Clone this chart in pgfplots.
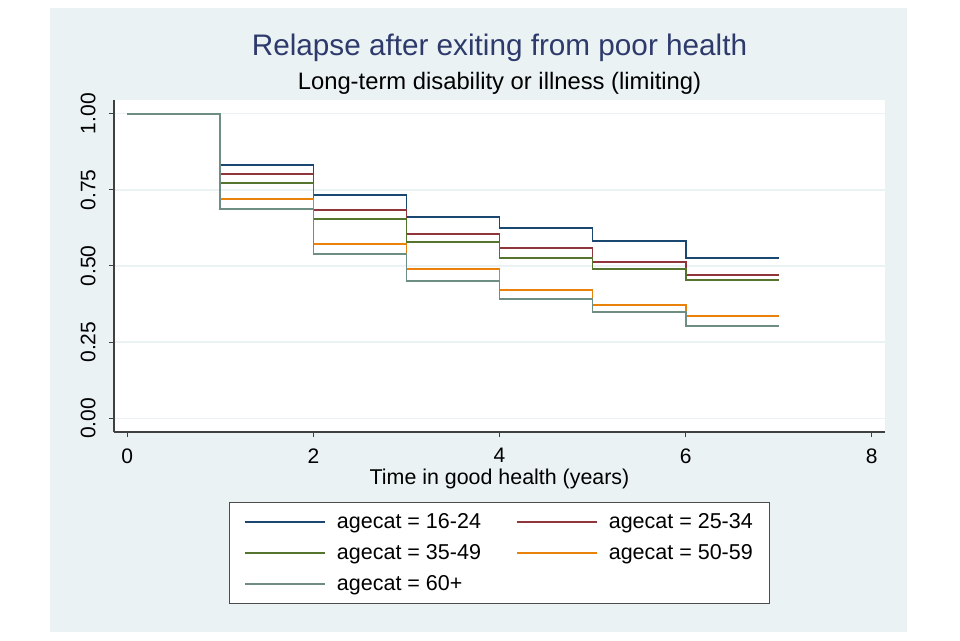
\documentclass[border=0pt]{standalone}
\usepackage{fontspec}
\setmainfont{Liberation Sans}
\usepackage{pgfplots}
\pgfplotsset{compat=1.18}

\definecolor{bgc}{HTML}{EAF2F3}
\definecolor{titlec}{HTML}{2D3A6B}
\definecolor{sNavy}{RGB}{26,71,111}
\definecolor{sMaroon}{RGB}{144,53,59}
\definecolor{sGreen}{RGB}{85,117,47}
\definecolor{sOrange}{RGB}{232,130,10}
\definecolor{sTeal}{RGB}{110,142,132}

\begin{document}
\begin{tikzpicture}
% page and graph region
\path[fill=white] (0pt,0pt) rectangle (960pt,640pt);
\fill[bgc] (50pt,8pt) rectangle (907pt,632pt);
\node[font=\fontsize{29.7}{34}\selectfont, text=titlec] at (499.5pt,592pt) {Relapse after exiting from poor health};
\node[font=\fontsize{23.8}{28}\selectfont] at (499.5pt,557pt) {Long-term disability or illness (limiting)};

\begin{axis}[
    at={(114pt,208pt)}, anchor=south west,
    width=771pt, height=332pt, scale only axis,
    axis background/.style={fill=white},
    axis lines*=left,
    axis line style={draw=black!75, line width=1.1pt},
    xmin=-0.143, xmax=8.143,
    ymin=-0.045, ymax=1.045,
    xtick={0,2,4,6,8},
    ytick={0,0.25,0.5,0.75,1},
    tick align=outside,
    major tick length=5pt,
    tick style={draw=black!75, line width=1pt},
    ymajorgrids,
    grid style={draw=bgc, line width=1.5pt},
    tick label style={font=\fontsize{21}{25}\selectfont},
    /pgf/number format/assume math mode=true,
    yticklabel style={rotate=90, anchor=south,
        /pgf/number format/.cd, fixed, fixed zerofill, precision=2},
    yticklabel shift=10pt,
    xticklabel shift=8pt,
    xlabel={Time in good health (years)},
    xlabel style={font=\fontsize{21.4}{25}\selectfont,
        at={(axis description cs:0.5,-0.1416)}, anchor=center},
    legend columns=2,
    legend cell align=left,
    legend style={at={(0.5,-0.2108)}, anchor=north,
        draw=black!70, line width=1pt, fill=white,
        font=\fontsize{21.5}{25}\selectfont,
        inner xsep=15pt, inner ysep=9pt, row sep=10.5pt,
        /tikz/every odd column/.append style={column sep=9pt},
        /tikz/every even column/.append style={column sep=33pt}},
    legend image code/.code={\draw[#1, line width=1.8pt] (0pt,0pt) -- (80pt,0pt);},
    every axis plot/.append style={line width=1.8pt, const plot},
]
\addplot[sNavy] coordinates {
    (0,1) (1,0.832) (2,0.734) (3,0.660) (4,0.626) (5,0.583) (6,0.527) (7,0.527)
};
\addlegendentry{agecat = 16-24}
\addplot[sMaroon] coordinates {
    (0,1) (1,0.801) (2,0.684) (3,0.605) (4,0.560) (5,0.513) (6,0.471) (7,0.471)
};
\addlegendentry{agecat = 25-34}
\addplot[sGreen] coordinates {
    (0,1) (1,0.772) (2,0.655) (3,0.578) (4,0.525) (5,0.489) (6,0.454) (7,0.454)
};
\addlegendentry{agecat = 35-49}
\addplot[sOrange] coordinates {
    (0,1) (1,0.719) (2,0.572) (3,0.489) (4,0.422) (5,0.373) (6,0.336) (7,0.336)
};
\addlegendentry{agecat = 50-59}
\addplot[sTeal] coordinates {
    (0,1) (1,0.688) (2,0.539) (3,0.452) (4,0.392) (5,0.348) (6,0.304) (7,0.304)
};
\addlegendentry{agecat = 60+}
\end{axis}
\end{tikzpicture}
\end{document}
